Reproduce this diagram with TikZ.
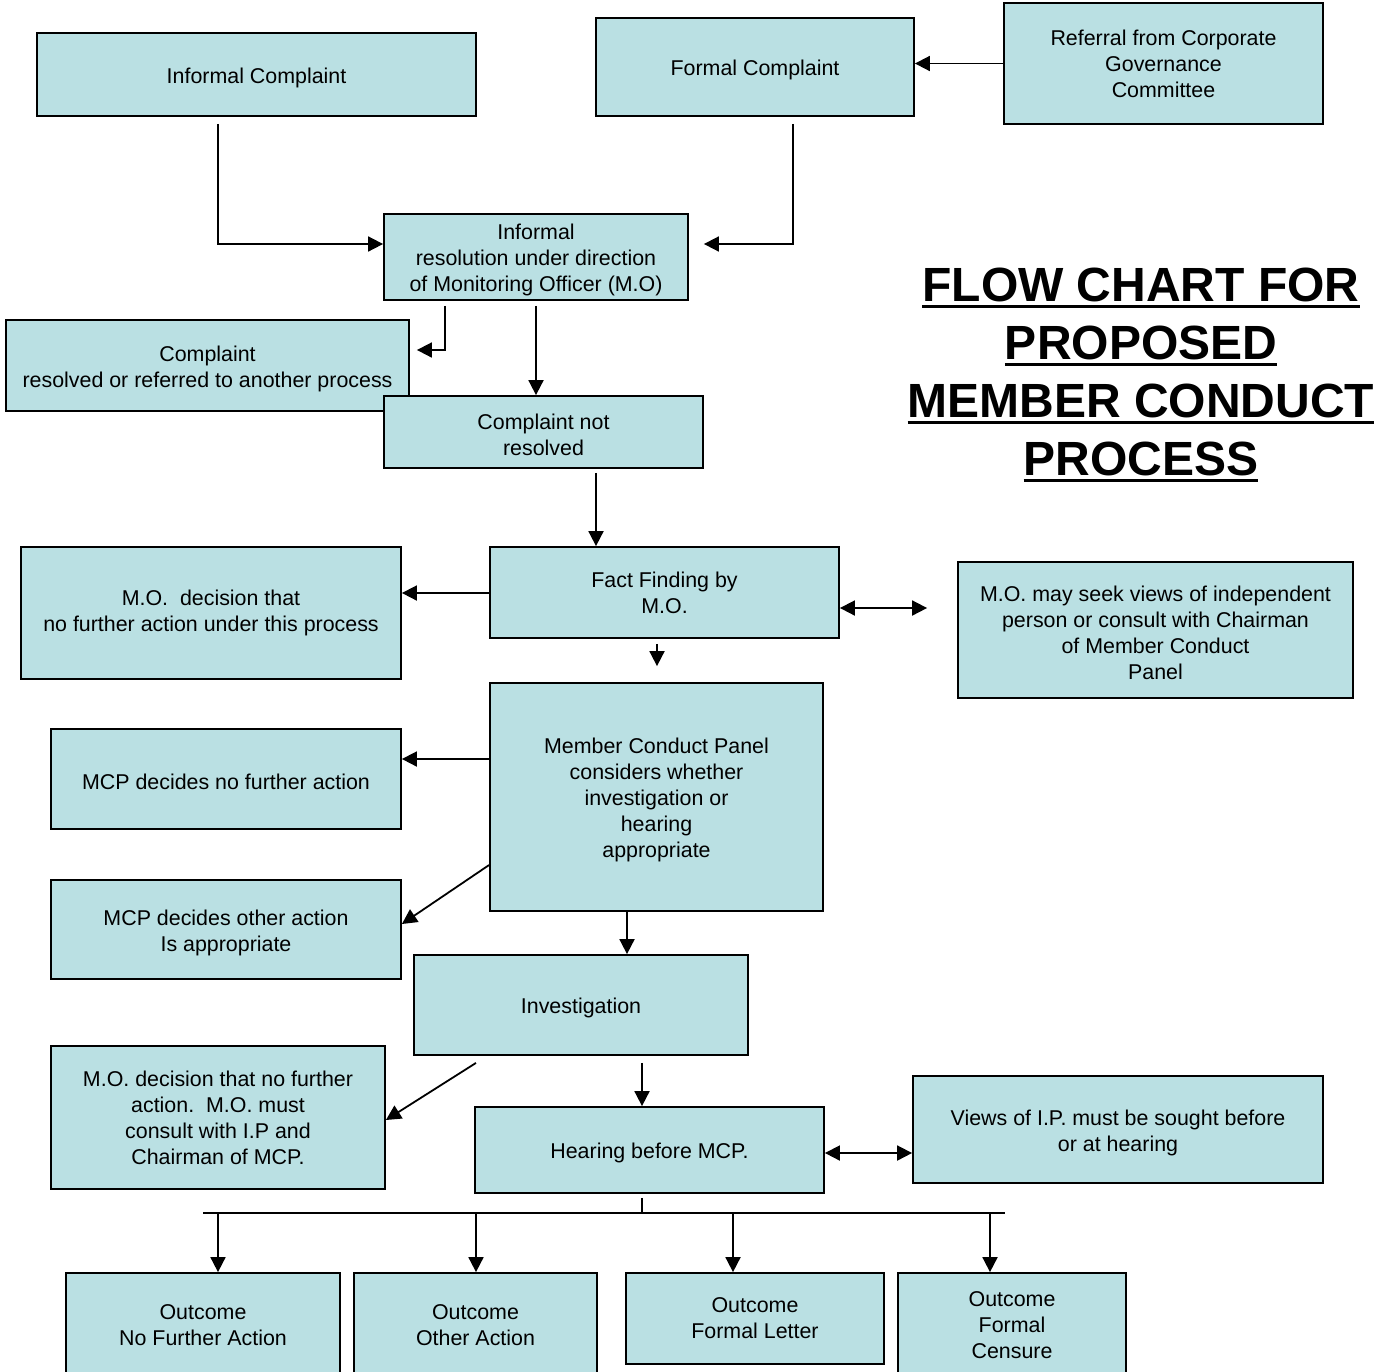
\documentclass[tikz,border=0pt]{standalone}
\usepackage{fontspec}
\setmainfont{Liberation Sans}
\usetikzlibrary{arrows.meta}

\definecolor{boxfill}{RGB}{186,224,227}
\newcommand\bodyfont{\fontsize{10.7pt}{13pt}\selectfont}
\newcommand\titlefont{\fontsize{24pt}{28.9pt}\selectfont\bfseries}
\newcommand\titleline[1]{\setbox0\hbox{#1}\rlap{\rule[-3.3pt]{\wd0}{1.5pt}}\box0}
\newcommand\tp{\rule{0pt}{11pt}}

\tikzset{
  box/.style={draw=black, fill=boxfill, line width=0.9pt, align=center,
    inner sep=0pt, font=\bodyfont, execute at begin node={\tp}},
  sz/.style 2 args={minimum width=#1*0.5pt, minimum height=#2*0.5pt},
  arr/.style={line width=0.9pt, -{Triangle[length=7.5pt,width=7.5pt]}},
  arrboth/.style={line width=0.9pt, {Triangle[length=7.5pt,width=7.5pt]}-{Triangle[length=7.5pt,width=7.5pt]}},
  bus/.style={line width=1.3pt}
}

\begin{document}
\begin{tikzpicture}[x=0.5pt, y=-0.5pt]
    \useasboundingbox (0,0) rectangle (1390,1371);

    % Top row
    \node[box, sz={439}{83}] (ic) at (256.5,74.5) {Informal Complaint};
    \node[box, sz={318}{98}] (fc) at (755,67) {Formal Complaint};
    \node[box, sz={319}{121}] (ref) at (1163.5,63.5) {Referral from Corporate\\Governance\\Committee};

    % Informal stage
    \node[box, sz={304}{86}] (ir) at (536,257) {\tp Informal\\resolution under direction\\of Monitoring Officer (M.O)};
    \node[box, sz={403}{91}] (cr) at (207.5,365.5) {\tp Complaint\\resolved or referred to another process};
    \node[box, sz={319}{72}] (cnr) at (543.5,432) {\tp Complaint not\\resolved};

    % Title
    \node[font=\titlefont, align=center] (title) at (1141,375)
      {\titleline{FLOW CHART FOR}\\\titleline{PROPOSED}\\\titleline{MEMBER CONDUCT}\\\titleline{PROCESS}};

    % Fact finding
    \node[box, sz={349}{91}] (ff) at (664.5,592.5) {Fact Finding by\\M.O.};
    \node[box, sz={380}{132}] (mod) at (211,613) {M.O.\ \ decision that\\no further action under this process};
    \node[box, sz={395}{136}] (seek) at (1155.5,630) {\tp M.O. may seek views of independent\\person or consult with Chairman\\of Member Conduct\\Panel};

    % Panel
    \node[box, sz={333}{228}] (mcp) at (656.5,797) {\tp Member Conduct Panel\\considers whether\\investigation or\\hearing\\appropriate};
    \node[box, sz={350}{100}] (nfa) at (226,779) {MCP decides no further action};
    \node[box, sz={350}{99}] (oth) at (226,929.5) {\tp MCP decides other action\\Is appropriate};

    % Investigation and hearing
    \node[box, sz={334}{100}] (inv) at (581,1005) {Investigation};
    \node[box, sz={334}{143}] (mon) at (218,1117.5) {M.O. decision that no further\\action.\ \ M.O. must\\consult with I.P and\\Chairman of MCP.};
    \node[box, sz={349}{86}] (hear) at (649.5,1150) {Hearing before MCP.};
    \node[box, sz={410}{107}] (ip) at (1118,1129.5) {\tp Views of I.P. must be sought before\\or at hearing};

    % Outcomes
    \node[box, sz={274}{105}] (o1) at (203,1325.5) {Outcome\\No Further Action};
    \node[box, sz={243}{105}] (o2) at (475.5,1325.5) {Outcome\\Other Action};
    \node[box, sz={258}{91}] (o3) at (755,1318.5) {Outcome\\Formal Letter};
    \node[box, sz={228}{105}] (o4) at (1012,1325.5) {Outcome\\Formal\\Censure};

    % Arrows
    \draw[arr, shorten <=3.5pt] (ic.south -| 218,0) |- (ir.west |- 0,244);
    \draw[arr, shorten <=3.5pt, shorten >=7.5pt] (fc.south -| 793,0) |- (ir.east |- 0,244);
    \draw[arr] (ref.west) -- (fc.east |- ref.west);
    \draw[arr, shorten <=2.5pt, shorten >=3.5pt] (ir.south -| 445,0) |- (cr.east |- 0,350);
    \draw[arr, shorten <=2.5pt] (ir.south) -- (ir.south |- cnr.north);
    \draw[arr, shorten <=2pt] (cnr.south -| 596,0) -- (ff.north -| 596,0);
    \draw[arr] (ff.west |- 0,593) -- (mod.east |- 0,593);
    \draw[arrboth, shorten >=15pt] (ff.east |- 0,608) -- (seek.west |- 0,608);
    \draw[arr, shorten <=2.5pt, shorten >=8pt] (ff.south -| 657,0) -- (mcp.north -| 657,0);
    \draw[arr] (mcp.west |- 0,759) -- (nfa.east |- 0,759);
    \draw[arr] (mcp.west |- 0,865) -- (oth.east |- 0,924);
    \draw[arr] (mcp.south -| 627,0) -- (inv.north -| 627,0);
    \draw[arr] (inv.south -| 476,0) ++(0,7) -- (mon.east |- 0,1120);
    \draw[arr, shorten <=3.5pt] (inv.south -| 642,0) -- (hear.north -| 642,0);
    \draw[arrboth] (hear.east |- 0,1153) -- (ip.west |- 0,1153);

    % Outcome bus
    \coordinate (busl) at (203,1213);
    \coordinate (busr) at (1005,1213);
    \draw[bus] (busl) -- (busr);
    \draw[line width=0.9pt, shorten <=2pt] (hear.south -| 642,0) -- (busl -| 642,0);
    \foreach \o/\x in {o1/218, o2/476, o3/733, o4/990}
      \draw[arr] (busl -| \x,0) -- (\o.north -| \x,0);
\end{tikzpicture}
\end{document}
